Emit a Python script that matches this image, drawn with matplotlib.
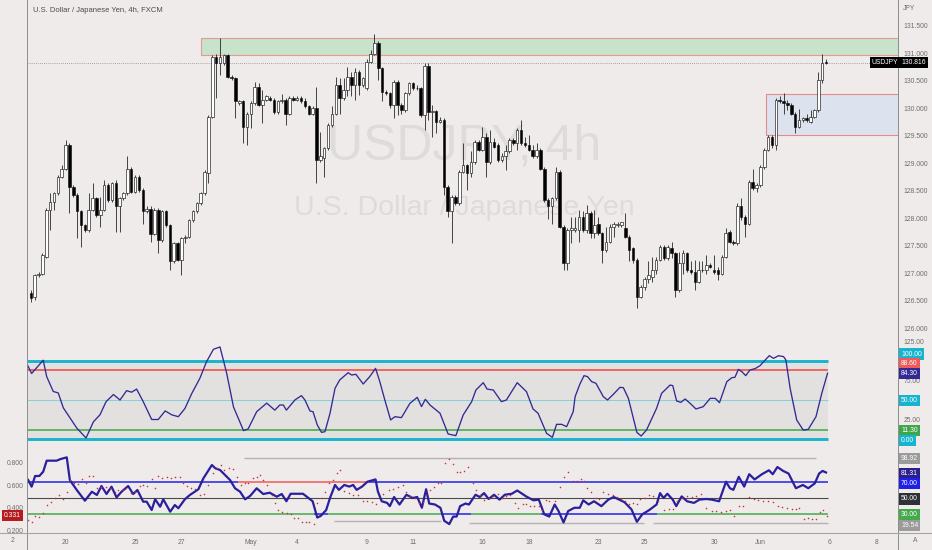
import numpy as np
import matplotlib
matplotlib.use("Agg")
import matplotlib.pyplot as plt
from matplotlib.patches import Rectangle
from matplotlib.lines import Line2D
from matplotlib import font_manager, transforms

# ---------------------------------------------------------------------------
# data (bars 1..207, Apr 18 -> Jun 6)
# ---------------------------------------------------------------------------
opens = [
    126.63, 126.57, 126.96, 126.99, 127.30, 128.15, 128.30, 128.45, 128.75, 128.90,
    129.33, 128.57, 128.42, 128.12, 127.87, 127.78, 128.15, 128.36, 128.05, 128.15,
    128.60, 128.33, 128.63, 128.21, 128.36, 128.45, 128.90, 128.48, 128.75, 128.51,
    128.12, 128.16, 127.71, 128.15, 127.60, 128.12, 127.87, 127.21, 127.54, 127.24,
    127.63, 127.66, 127.96, 128.12, 128.27, 128.45, 128.81, 129.84, 130.93, 130.81,
    130.82, 130.96, 130.57, 130.54, 130.09, 130.12, 129.66, 129.90, 130.09, 130.39,
    130.06, 130.15, 130.18, 130.15, 129.93, 130.12, 130.15, 129.90, 130.18, 130.15,
    130.18, 130.12, 130.03, 129.90, 130.00, 129.05, 129.09, 129.27, 129.69, 129.90,
    130.42, 130.18, 130.33, 130.57, 130.42, 130.66, 130.42, 130.36, 130.84, 130.99,
    131.19, 130.72, 130.30, 130.27, 130.06, 130.48, 130.06, 129.96, 130.27, 130.45,
    130.36, 130.36, 129.87, 130.76, 129.93, 129.94, 129.75, 129.79, 128.57, 128.12,
    128.39, 128.27, 128.84, 128.96, 128.81, 129.02, 129.39, 129.24, 129.48, 129.02,
    129.39, 129.33, 129.05, 129.12, 129.21, 129.42, 129.36, 129.60, 129.36, 129.33,
    129.24, 129.12, 129.24, 128.90, 128.33, 128.21, 128.36, 128.84, 127.84, 127.18,
    127.78, 127.78, 127.78, 128.02, 127.78, 128.09, 127.72, 127.90, 127.72, 127.42,
    127.57, 127.84, 127.87, 127.87, 127.81, 127.66, 127.45, 127.24, 126.57, 126.75,
    126.90, 126.93, 127.05, 127.24, 127.48, 127.27, 127.45, 127.36, 126.69, 127.18,
    127.36, 127.05, 127.02, 126.84, 127.05, 127.05, 127.15, 127.05, 127.05, 126.99,
    127.30, 127.75, 127.57, 127.54, 128.21, 128.02, 127.90, 128.66, 128.54, 128.60,
    128.93, 129.24, 129.48, 129.33, 130.15, 130.12, 130.09, 130.06, 129.90, 129.66,
    129.78, 129.81, 129.75, 129.84, 129.96, 130.51, 130.84,
]
highs = [
    126.69, 126.99, 127.02, 127.36, 128.18, 128.45, 128.48, 128.78, 128.96, 129.42,
    129.36, 128.60, 128.45, 128.15, 127.90, 128.45, 128.63, 128.39, 128.39, 128.69,
    128.63, 128.66, 128.69, 128.39, 128.48, 129.12, 128.93, 128.78, 128.78, 128.54,
    128.21, 128.21, 128.18, 128.18, 128.15, 128.15, 127.90, 127.57, 127.57, 127.66,
    127.69, 127.99, 128.15, 128.30, 128.48, 128.87, 129.87, 130.96, 130.99, 131.27,
    130.99, 130.99, 130.60, 130.57, 130.15, 130.15, 129.93, 130.12, 130.48, 130.45,
    130.33, 130.23, 130.21, 130.18, 130.15, 130.26, 130.18, 130.21, 130.21, 130.21,
    130.21, 130.18, 130.06, 130.03, 130.39, 129.57, 129.30, 129.72, 130.03, 130.57,
    130.54, 130.54, 130.75, 130.66, 130.72, 130.69, 130.57, 130.90, 131.05, 131.35,
    131.21, 130.75, 130.33, 130.30, 130.51, 130.51, 130.09, 130.30, 130.48, 130.48,
    130.42, 130.39, 130.81, 130.81, 130.06, 129.96, 129.84, 129.81, 128.60, 128.42,
    128.42, 128.87, 129.36, 128.99, 129.21, 129.42, 129.42, 129.66, 129.54, 129.60,
    129.45, 129.36, 129.18, 129.33, 129.45, 129.45, 129.63, 129.78, 129.48, 129.51,
    129.33, 129.36, 129.27, 128.93, 128.36, 128.39, 128.93, 128.87, 127.87, 127.81,
    128.02, 128.02, 128.15, 128.12, 128.24, 128.12, 128.15, 128.02, 127.75, 127.84,
    127.90, 127.93, 127.93, 127.93, 128.09, 127.69, 127.48, 127.27, 126.78, 126.93,
    127.21, 127.30, 127.30, 127.51, 127.51, 127.51, 127.57, 127.39, 127.39, 127.42,
    127.39, 127.21, 127.24, 127.21, 127.21, 127.33, 127.18, 127.33, 127.11, 127.33,
    127.81, 127.78, 127.60, 128.27, 128.36, 128.05, 128.69, 128.90, 128.63, 128.96,
    129.27, 129.51, 129.51, 130.18, 130.21, 130.27, 130.15, 130.09, 129.93, 129.99,
    129.84, 129.90, 129.96, 129.99, 130.66, 130.98, 130.90,
]
lows = [
    126.48, 126.51, 126.93, 126.96, 127.27, 127.78, 128.15, 128.42, 128.72, 128.87,
    128.09, 128.39, 127.63, 127.48, 127.75, 127.75, 128.12, 128.02, 127.84, 128.12,
    128.30, 128.30, 127.75, 127.75, 128.33, 128.42, 128.45, 128.45, 128.48, 127.90,
    128.09, 127.57, 127.69, 127.37, 127.57, 127.84, 127.05, 127.18, 127.21, 126.96,
    127.54, 127.63, 127.93, 128.09, 128.24, 128.42, 128.63, 129.81, 130.18, 130.60,
    130.78, 130.54, 130.51, 129.81, 130.06, 129.36, 129.33, 129.63, 130.06, 130.03,
    129.72, 130.12, 130.12, 129.90, 129.90, 130.09, 129.69, 129.87, 130.12, 130.12,
    130.09, 130.00, 129.87, 129.87, 128.63, 129.02, 128.75, 129.24, 129.66, 129.87,
    129.90, 130.15, 130.21, 130.21, 130.15, 130.24, 130.39, 130.33, 130.81, 130.96,
    130.51, 130.12, 130.24, 130.00, 129.81, 129.87, 129.90, 129.93, 130.24, 130.33,
    130.33, 129.84, 129.60, 129.78, 129.48, 129.54, 129.72, 128.42, 128.02, 127.54,
    128.24, 128.24, 128.81, 128.51, 128.75, 128.99, 129.21, 129.21, 128.75, 128.99,
    129.27, 129.02, 129.02, 128.87, 129.18, 129.33, 129.24, 129.33, 129.30, 129.21,
    129.09, 129.09, 128.87, 128.30, 127.99, 127.90, 128.33, 127.81, 127.05, 127.05,
    127.54, 127.75, 127.57, 127.75, 127.72, 127.63, 127.63, 127.69, 127.18, 127.39,
    127.54, 127.66, 127.84, 127.84, 127.63, 127.21, 127.18, 126.36, 126.54, 126.69,
    126.81, 126.84, 126.99, 127.21, 127.24, 127.24, 127.27, 126.57, 126.66, 126.99,
    127.02, 126.99, 126.69, 126.81, 127.02, 126.99, 127.09, 126.99, 126.87, 126.96,
    127.27, 127.54, 127.51, 127.51, 127.96, 127.66, 127.87, 128.51, 128.48, 128.57,
    128.90, 129.21, 129.27, 129.24, 130.09, 129.90, 129.96, 129.87, 129.54, 129.63,
    129.75, 129.75, 129.72, 129.81, 129.93, 130.45, 130.80,
]
closes = [
    126.54, 126.96, 126.99, 127.33, 128.15, 128.30, 128.45, 128.75, 128.90, 129.33,
    128.57, 128.42, 128.12, 127.87, 127.78, 128.15, 128.36, 128.05, 128.15, 128.60,
    128.33, 128.63, 128.21, 128.36, 128.45, 128.90, 128.48, 128.75, 128.51, 128.12,
    128.16, 127.71, 128.15, 127.60, 128.12, 127.87, 127.21, 127.54, 127.24, 127.63,
    127.66, 127.96, 128.12, 128.27, 128.45, 128.84, 129.84, 130.93, 130.81, 130.93,
    130.96, 130.57, 130.54, 130.12, 130.12, 129.66, 129.90, 130.09, 130.39, 130.06,
    130.15, 130.21, 130.15, 129.93, 130.12, 130.15, 129.90, 130.18, 130.15, 130.18,
    130.12, 130.03, 129.90, 130.00, 129.05, 129.12, 129.27, 129.69, 129.90, 130.42,
    130.18, 130.33, 130.57, 130.42, 130.66, 130.42, 130.54, 130.84, 130.99, 131.19,
    130.72, 130.30, 130.27, 130.06, 130.48, 130.06, 129.96, 130.27, 130.45, 130.36,
    130.37, 129.87, 130.76, 129.93, 129.94, 129.75, 129.79, 128.57, 128.12, 128.39,
    128.27, 128.84, 128.96, 128.81, 129.02, 129.39, 129.24, 129.48, 129.02, 129.39,
    129.30, 129.05, 129.12, 129.21, 129.42, 129.36, 129.60, 129.36, 129.33, 129.24,
    129.12, 129.24, 128.90, 128.33, 128.21, 128.36, 128.84, 127.84, 127.18, 127.78,
    127.81, 127.81, 128.02, 127.78, 128.09, 127.72, 127.87, 127.72, 127.42, 127.57,
    127.84, 127.90, 127.90, 127.92, 127.66, 127.42, 127.24, 126.57, 126.75, 126.90,
    126.96, 127.05, 127.24, 127.48, 127.27, 127.48, 127.36, 126.69, 127.18, 127.36,
    127.05, 127.02, 126.84, 127.05, 127.06, 127.15, 127.11, 127.02, 126.99, 127.30,
    127.72, 127.57, 127.54, 128.21, 128.02, 127.90, 128.66, 128.54, 128.60, 128.93,
    129.24, 129.48, 129.33, 130.15, 130.12, 130.09, 130.06, 129.90, 129.66, 129.78,
    129.81, 129.78, 129.84, 129.96, 130.51, 130.81, 130.816,
]
last_price = 130.816

supply_zone = (130.96, 131.27)   # green box
demand_zone = (129.51, 130.25)   # blue box
supply_start, demand_start = 45.1, 191.5

# middle pane oscillator (line vertices: bar position, value)
stoch_x = [0.1, 1.2, 4.2, 5.1, 6.8, 8.1, 9.4, 12.9, 15.3, 17.2, 18.9, 20.5, 22.4, 24.1,
           25.8, 27.1, 28.4, 30.1, 32.3, 34.0, 35.8, 37.5, 39.2, 40.9, 42.7, 44.8, 46.5,
           48.3, 50.0, 51.7, 53.5, 56.1, 57.3, 59.5, 62.1, 64.2, 65.5, 66.4, 67.2, 69.4,
           71.1, 72.0, 73.3, 74.1, 75.2, 76.3, 77.2, 78.5, 79.8, 81.0, 83.2, 84.1, 85.2,
           87.1, 88.8, 90.3, 91.4, 92.7, 94.2, 95.3, 97.0, 99.2, 101.1, 102.2, 103.2,
           104.4, 107.0, 109.1, 111.1, 113.0, 115.2, 116.3, 118.2, 119.2, 120.8, 122.9,
           124.2, 127.0, 129.4, 131.1, 132.4, 134.6, 136.1, 137.2, 138.5, 139.8, 141.5,
           142.0, 143.2, 144.3, 145.2, 146.3, 147.4, 149.3, 150.4, 151.9, 153.6, 154.5,
           155.8, 158.0, 159.1, 160.5, 163.1, 164.4, 166.6, 167.3, 168.3, 169.4, 170.5,
           171.8, 173.3, 175.2, 177.0, 178.3, 179.4, 181.3, 182.6, 183.4, 184.3, 185.2,
           186.2, 187.3, 188.6, 189.9, 191.0, 192.3, 193.4, 194.7, 196.0, 196.6, 197.7,
           199.4, 201.1, 202.4, 204.4, 205.9, 207.4]
stoch_y = [95, 84, 101, 80, 61, 59, 40, 14, 1.3, 22, 31, 48, 57, 50,
           62, 60, 64, 48, 25, 25, 36, 31, 28.6, 39, 58.5, 78, 99,
           115, 118, 85, 41, 10.7, 13, 35, 46, 37, 43.6, 43.6, 37, 50,
           55.6, 50, 36, 35, 18, 8.5, 9.4, 33, 65, 75.6, 85, 82, 83,
           70.5, 80, 90.6, 73.5, 50, 24.4, 28.6, 27.4, 45.7, 53.4, 41.5, 50.9,
           43.6, 33, 6.4, 4.3, 30.8, 47.9, 62.8, 72.2, 64, 62.8, 47.9,
           50, 72.2, 60.7, 38.5, 33, 7.3, 2.1, 18.8, 18.8, 15.8, 35,
           54.3, 70, 81.2, 80, 73.5, 71.4, 54.3, 50, 57.3, 66.2, 65.8,
           52.1, 8.5, 3.8, 11.5, 39.3, 58.5, 69.2, 68.4, 48.7, 47, 51.3,
           45.7, 38.5, 41.5, 52.1, 52.1, 46.6, 73.5, 78.6, 79.1, 89.3, 86.3,
           81.2, 88.5, 90.2, 94, 100, 106.8, 103.4, 106.8, 105.6, 101.3, 65,
           24.4, 11.5, 12.4, 28.6, 58.5, 84.3]
stoch_levels = [100, 88.6, 50, 11.3, 0]

# bottom pane: thick line (right scale) and dotted series (left scale)
rsi_x = [0.3, 1.2, 2.1, 3.2, 4.2, 5.1, 7.7, 8.5, 10.3, 11.1, 12.9, 15.0, 16.8, 18.1, 19.3,
         20.6, 21.9, 23.2, 24.5, 26.2, 27.5, 28.6, 30.1, 31.0, 32.3, 33.2, 34.5, 35.3,
         37.1, 38.3, 39.2, 40.9, 42.2, 44.4, 45.7, 47.9, 48.8, 50.0, 51.3, 52.6, 53.9,
         55.2, 56.5, 57.8, 59.5, 61.2, 62.9, 64.7, 66.0, 67.2, 68.3, 71.5, 72.9, 74.0,
         75.2, 76.1, 77.5, 78.5, 79.8, 80.8, 82.2, 83.5, 84.5, 85.4, 86.8, 88.2, 90.3,
         90.9, 91.9, 93.3, 94.0, 95.1, 96.5, 98.3, 99.9, 101.1, 102.3, 103.4, 104.2,
         105.7, 107.1, 108.1, 109.4, 110.4, 111.3, 112.2, 113.6, 114.5, 116.2, 117.3,
         118.4, 119.6, 121.0, 122.4, 123.8, 125.6, 127.0, 129.3, 131.2, 132.6, 134.0,
         135.3, 136.7, 137.7, 139.0, 140.2, 141.8, 143.2, 144.1, 145.5, 146.9, 148.8,
         150.6, 152.0, 153.4, 154.8, 156.6, 158.0, 159.4, 161.2, 163.1, 164.0, 164.9,
         165.9, 167.3, 168.2, 169.6, 171.0, 172.8, 174.2, 176.0, 177.4, 179.3, 181.1,
         182.1, 183.0, 184.4, 185.8, 187.1, 188.5, 190.4, 192.2, 193.2, 194.4, 195.9,
         197.3, 199.2, 201.0, 202.4, 204.1, 205.2, 206.1, 207.0]
rsi_y = [72.1, 63.9, 77, 77, 82.3, 95.8, 95.8, 97.5, 99.9, 72, 59.8, 46.7, 57.7, 53.7, 64.7,
         54.9, 63.9, 50.8, 57.7, 64.7, 54.9, 59.8, 45.5, 45.5, 35.3, 48.4, 39.3, 48.4,
         33.2, 41.4, 37.4, 48.4, 53.7, 60.7, 74.2, 90.5, 86.4, 84.4, 78.2, 72.1, 61.9,
         57.7, 48.4, 52.5, 61.9, 54.9, 56.5, 51.6, 54.9, 46, 55.2, 55.2, 50, 46,
         26, 28, 35.2, 50, 66, 60, 66, 64, 66, 60, 64, 70, 72.8,
         58, 46, 44, 40, 51.2, 42, 54, 50, 51.2, 38, 60.8, 43.2,
         42, 38, 22, 18, 27.2, 27.2, 40, 43.2, 42, 54, 51.2,
         56, 48.8, 54, 48, 54, 55.2, 59.2, 52, 47.2, 48, 30,
         27.2, 42, 34, 20, 34, 38, 38, 47.2, 42, 46, 40,
         48, 51.2, 48, 44.8, 36, 20.8, 30, 35.2, 42, 56, 50,
         55.2, 48, 40, 52, 46, 44, 48, 48.8, 48, 46, 70,
         62, 60, 76, 64, 79.2, 72.8, 79.2, 84, 79.2, 88, 83.2,
         80, 62, 66, 62, 68, 80, 83.2, 81.31]
dots_x = [0.3, 1.2, 2.1, 3.2, 4.2, 5.1, 6.1, 7.2, 8.4, 9.2, 10.3, 11.1, 12.2, 13.3, 14.2,
          15.3, 16.1, 17.2, 18.1, 19.3, 20.5, 21.5, 22.8, 23.7, 24.8, 25.7, 26.9, 28.0,
          29.3, 30.1, 31.2, 32.3, 33.2, 34.0, 35.1, 36.2, 37.2, 38.3, 39.6, 40.3, 41.4,
          42.4, 43.5, 44.8, 45.9, 47.0, 48.3, 49.1, 50.2, 51.0, 52.4, 53.3, 54.3, 55.4,
          56.5, 57.3, 58.5, 59.5, 60.4, 61.2, 62.1, 63.4, 64.2, 65.1, 66.0, 67.3, 68.3,
          69.2, 70.1, 71.2, 72.2, 73.1, 74.3, 75.2, 76.4, 77.3, 78.3, 79.2, 80.3, 81.2,
          82.2, 83.3, 84.5, 85.7, 87.0, 88.2, 89.4, 90.5, 92.3, 93.7, 94.9, 96.0, 97.4,
          98.3, 99.3, 100.5, 101.6, 102.5, 103.4, 104.4, 105.5, 106.4, 107.3, 108.2,
          109.4, 110.4, 111.3, 112.2, 113.1, 114.3, 115.5, 116.2, 117.3, 118.4, 119.6,
          120.8, 121.9, 123.0, 124.2, 125.2, 126.4, 127.3, 128.4, 129.3, 130.3, 131.4,
          132.6, 133.5, 134.4, 135.3, 136.7, 138.1, 139.0, 140.2, 141.4, 142.5, 143.4,
          144.3, 145.2, 146.2, 147.4, 148.3, 149.2, 150.4, 151.7, 152.9, 153.8, 154.8,
          156.0, 157.1, 158.0, 158.9, 160.0, 161.2, 162.2, 163.6, 164.9, 166.3, 167.3,
          168.4, 169.6, 171.0, 172.3, 173.3, 174.5, 176.0, 177.4, 178.5, 179.7, 181.1,
          182.2, 183.2, 184.4, 185.6, 187.1, 188.3, 189.5, 190.8, 192.0, 193.2, 194.5,
          195.7, 196.9, 198.1, 199.2, 200.1, 201.3, 202.4, 203.3, 204.3, 205.4, 206.3,
          207.3]
dots_y = [.293, .278, .327, .322, .351, .424, .453, .482, .512, .474, .541, .643, .620, .608, .649,
          .620, .678, .678, .570, .585, .585, .570, .541, .556, .556, .570, .532, .541,
          .591, .600, .594, .649, .570, .678, .658, .673, .658, .673, .667, .620, .591,
          .570, .562, .512, .521, .600, .702, .746, .775, .731, .746, .740, .673, .600,
          .620, .614, .658, .673, .687, .643, .600, .512, .444, .380, .363, .352, .343,
          .314, .314, .277, .272, .272, .257, .443, .486, .535, .615, .643, .701, .735,
          .543, .529, .515, .515, .457, .457, .449, .437, .523, .558, .563, .586, .600,
          .535, .500, .486, .443, .449, .515, .558, .580, .620, .620, .792,
          .829, .786, .715, .715, .723, .758, .615, .558, .515, .472, .486,
          .500, .523, .486, .506, .515, .443, .400, .429, .429, .420, .415,
          .415, .380, .466, .457, .457, .586, .666, .715, .638, .638, .649,
          .638, .572, .535, .486, .477, .535, .523, .515, .495, .477, .457,
          .437, .443, .429, .477, .486, .515, .506, .457, .380, .392, .386,
          .457, .486, .500, .495, .500, .523, .400, .372, .372, .363, .372,
          .380, .329, .415, .420, .495, .477, .472, .457, .457, .449, .415,
          .409, .400, .386, .386, .400, .300, .314, .300, .300, .363, .380,
          .331]
rsi_levels = {"hi": 70, "mid": 50, "lo": 30}
band_hi = (98.92, 56.2, 204.4)
band_lo = [(22.0, 79.5, 107.3), (19.3, 114.5, 159.8), (19.54, 162.2, 207.4)]
hi_segments = [(0, 54.7, "blue"), (54.7, 88.6, "red"), (88.6, 207.4, "blue")]
lo_segments = [(0, 74.4, "green"), (74.4, 78.0, "blue"), (78.0, 107.3, "green"),
               (107.3, 115.0, "blue"), (115.0, 133.1, "green"), (133.1, 163.2, "blue"),
               (163.2, 207.4, "green")]

tick_pos = [10, 28, 40, 58, 70, 88, 100, 118, 130, 148, 160, 178, 190, 208, 220]
tick_labels = ["20", "25", "27", "May", "4", "9", "11", "16", "18", "23", "25", "30",
               "Jun", "6", "8"]

# ---------------------------------------------------------------------------
W, H = 932, 550
BG = "#efebea"
GRID_TXT = "#6e6e6e"
CYAN, RED, GREEN, INDIGO = "#17b4cf", "#ef5a5a", "#3fa74a", "#332a93"
SEG_COL = {"blue": "#2222e8", "red": "#ef5a5a", "green": "#44aa4c"}

avail = {f.name for f in font_manager.fontManager.ttflist}
NARROW = "Liberation Sans Narrow" in avail
BASE_FONT = "Liberation Sans Narrow" if NARROW else "Liberation Sans"
plt.rcParams["font.family"] = [BASE_FONT, "DejaVu Sans"]
FS = 5.3 if NARROW else 4.9

fig = plt.figure(figsize=(W / 100, H / 100), dpi=100, facecolor=BG)


def box(top, bottom):
    return [27 / W, 1 - bottom / H, (898 - 27) / W, (bottom - top) / H]


ax_p = fig.add_axes(box(0, 336))
ax_s = fig.add_axes(box(336, 446), sharex=ax_p)
ax_r = fig.add_axes(box(446, 533), sharex=ax_p)
ax_d = ax_r.twinx()

for ax in (ax_p, ax_s, ax_r, ax_d):
    ax.set_facecolor(BG)
    for sp in ax.spines.values():
        sp.set_visible(False)
    ax.tick_params(length=0, labelsize=FS, colors=GRID_TXT)
ax_d.patch.set_visible(False)

bars = np.arange(1, len(closes) + 1)
ax_p.set_xlim(0, (898 - 27) / 3.86)

# ---- price pane -----------------------------------------------------------
o, h, l, c = map(np.array, (opens, highs, lows, closes))
up = c >= o
ax_p.add_patch(Rectangle((supply_start, supply_zone[0]), 300, supply_zone[1] - supply_zone[0],
                         fc="#c8e3cb", ec="#e79a92", lw=0.8, zorder=1))
ax_p.add_patch(Rectangle((demand_start, demand_zone[0]), 300, demand_zone[1] - demand_zone[0],
                         fc="#dde3ee", ec="#e58b8b", lw=0.8, zorder=1))
ax_p.axhline(last_price, color="#8a8a8a", lw=0.6, ls=(0, (1, 1.5)), zorder=1.5)
ax_p.vlines(bars, l, h, color="#151515", lw=0.55, zorder=2)
ax_p.bar(bars, np.maximum(np.abs(c - o), 0.012), bottom=np.minimum(o, c), width=0.66,
         color=np.where(up, "white", "black"), edgecolor="#151515", linewidth=0.45, zorder=3)
ax_p.set_ylim(131 - 283 / 55, 131 + 53 / 55)
ax_p.yaxis.tick_right()
ax_p.set_yticks(np.arange(126.0, 131.51, 0.5))
ax_p.yaxis.set_major_formatter(matplotlib.ticker.FormatStrFormatter("%.3f"))
ax_p.tick_params(axis="y", pad=4)
ax_p.tick_params(axis="x", labelbottom=False)

wm_big, wm_small = (46, 24) if NARROW else (36, 20.5)
ax_p.text(464 / W, 1 - 160 / H, "USDJPY, 4h", transform=fig.transFigure, ha="center",
          va="baseline", fontsize=wm_big, color="#dfdbda", zorder=0)
ax_p.text(464 / W, 1 - 215 / H, "U.S. Dollar / Japanese Yen", transform=fig.transFigure,
          ha="center", va="baseline", fontsize=wm_small, color="#dfdbda", zorder=0)

# ---- oscillator pane ------------------------------------------------------
lvl_end = 207.4
ax_s.fill_between([0, lvl_end], stoch_levels[-1], stoch_levels[0], color="#e3e0e0", lw=0, zorder=0)
ax_s.hlines(stoch_levels[0], 0, lvl_end, color=CYAN, lw=2.1)
ax_s.hlines(stoch_levels[4], 0, lvl_end, color=CYAN, lw=2.1)
ax_s.hlines(stoch_levels[1], 0, lvl_end, color=RED, lw=1.3)
ax_s.hlines(stoch_levels[2], 0, lvl_end, color="#86cfdc", lw=0.7)
ax_s.hlines(stoch_levels[3], 0, lvl_end, color=GREEN, lw=1.1)
ax_s.plot(stoch_x, stoch_y, color=INDIGO, lw=0.95, zorder=4)
ax_s.set_ylim(-(446 - 439) / 0.78, (439 - 336) / 0.78)
ax_s.yaxis.tick_right()
ax_s.set_yticks([25, 75, 125])
ax_s.yaxis.set_major_formatter(matplotlib.ticker.FormatStrFormatter("%.2f"))
ax_s.tick_params(axis="y", pad=4)
ax_s.tick_params(axis="x", labelbottom=False)

# ---- bottom pane ----------------------------------------------------------
ax_r.hlines(rsi_levels["mid"], 0, lvl_end, color="#4a4a4a", lw=0.8)
for a, b, col in hi_segments:
    ax_r.hlines(rsi_levels["hi"], a, b, color=SEG_COL[col], lw=1.1)
for a, b, col in lo_segments:
    ax_r.hlines(rsi_levels["lo"], a, b, color=SEG_COL[col], lw=1.1)
ax_r.hlines(band_hi[0], band_hi[1], band_hi[2], color="#b4b2b2", lw=1.0)
for v, a, b in band_lo:
    ax_r.hlines(v, a, b, color="#b4b2b2", lw=1.0)
ax_r.plot(rsi_x, rsi_y, color="#2a1f9c", lw=1.6, zorder=4)
ax_r.set_ylim(50 - (533 - 498) / 0.815, 50 + (498 - 446) / 0.815)
ax_r.tick_params(axis="y", left=False, right=False, labelleft=False, labelright=False)
ax_r.set_xticks(tick_pos)
ax_r.set_xticklabels(tick_labels)
ax_r.tick_params(axis="x", pad=4.5)

ax_d.scatter(dots_x, dots_y, s=1.3, color="#c8342c", lw=0, zorder=5)
ax_d.set_ylim(0.6 - (533 - 485) / 114, 0.6 + (485 - 446) / 114)
ax_d.yaxis.tick_left()
ax_d.set_yticks([0.2, 0.4, 0.6, 0.8])
ax_d.yaxis.set_major_formatter(matplotlib.ticker.FormatStrFormatter("%.3f"))
ax_d.tick_params(axis="y", pad=2.5, labelleft=True, labelright=False)

# ---- frame lines ----------------------------------------------------------
for xpx in (27, 898):
    fig.add_artist(Line2D([xpx / W] * 2, [0, 1], color="#8d8d8d", lw=0.7))
fig.add_artist(Line2D([0, 1], [1 - 533 / H] * 2, color="#a5a5a5", lw=0.8))

# ---- texts & value tags ---------------------------------------------------
fig.text(33 / W, 1 - 11 / H, "U.S. Dollar / Japanese Yen, 4h, FXCM", fontsize=FS + 0.6,
         color="#4c4c4c", va="center")
fig.text(903 / W, 1 - 8 / H, "JPY", fontsize=FS, color=GRID_TXT, va="center")
fig.text(13 / W, 1 - 541 / H, "2", fontsize=FS, color=GRID_TXT, va="center", ha="center")
fig.text(915 / W, 1 - 541 / H, "A", fontsize=FS, color=GRID_TXT, va="center", ha="center")


def tag(ax, value, text, bg, dy=0, xpx=901):
    tr = transforms.offset_copy(transforms.blended_transform_factory(fig.transFigure, ax.transData),
                                fig=fig, y=dy, units="dots")
    fig.text(xpx / W, value, text, transform=tr, fontsize=FS, color="white", va="center",
             ha="left", bbox=dict(boxstyle="square,pad=0.3", fc=bg, ec="none"))


tag(ax_p, last_price, "USDJPY", "#000000", dy=1, xpx=872)
tag(ax_p, last_price, f"{last_price:.3f}", "#000000", dy=1, xpx=901)

tag(ax_s, stoch_levels[0], f"{stoch_levels[0]:.2f}", CYAN, dy=7)
tag(ax_s, stoch_levels[1], f"{stoch_levels[1]:.2f}", RED, dy=6.5)
tag(ax_s, stoch_y[-1], f"{stoch_y[-1]:.2f}", INDIGO)
tag(ax_s, stoch_levels[2], f"{stoch_levels[2]:.2f}", CYAN, dy=-0.7)
tag(ax_s, stoch_levels[3], f"{stoch_levels[3]:.2f}", GREEN, dy=-0.5)
tag(ax_s, stoch_levels[4], f"{stoch_levels[4]:.2f}", CYAN, dy=-1.7)

tag(ax_r, band_hi[0], f"{band_hi[0]:.2f}", "#9b9b9b")
tag(ax_r, rsi_y[-1], f"{rsi_y[-1]:.2f}", "#2a1f8c", dy=-0.8)
tag(ax_r, rsi_levels["hi"], f"{rsi_levels['hi']:.2f}", "#1f1fe8", dy=-2)
tag(ax_r, rsi_levels["mid"], f"{rsi_levels['mid']:.2f}", "#2e3136", dy=-1)
tag(ax_r, rsi_levels["lo"], f"{rsi_levels['lo']:.2f}", "#44aa4c", dy=-0.7)
tag(ax_r, band_lo[-1][0], f"{band_lo[-1][0]:.2f}", "#9b9b9b", dy=-3)
tag(ax_d, dots_y[-1], f"{dots_y[-1]:.3f}", "#b71c1c", xpx=4)

fig.savefig("out.png", dpi=100, facecolor=BG)
